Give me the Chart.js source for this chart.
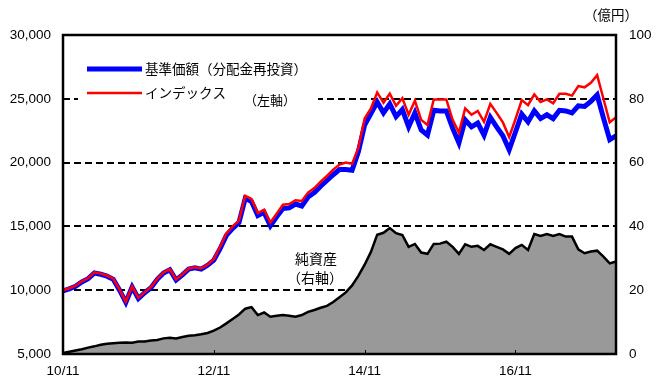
<!DOCTYPE html>
<html>
<head>
<meta charset="utf-8">
<script src="https://cdn.jsdelivr.net/npm/chart.js@4/dist/chart.umd.min.js"></script>
<style>
html,body{margin:0;padding:0;background:#fff;}
#wrap{position:relative;width:662px;height:384px;}
canvas{display:block;}
</style>
</head>
<body>
<div id="wrap"><canvas id="c" width="662" height="384"></canvas></div>
<script>
const months = [
'10/11','10/12',
'11/01','11/02','11/03','11/04','11/05','11/06','11/07','11/08','11/09','11/10','11/11','11/12',
'12/01','12/02','12/03','12/04','12/05','12/06','12/07','12/08','12/09','12/10','12/11','12/12',
'13/01','13/02','13/03','13/04','13/05','13/06','13/07','13/08','13/09','13/10','13/11','13/12',
'14/01','14/02','14/03','14/04','14/05','14/06','14/07','14/08','14/09','14/10','14/11','14/12',
'15/01','15/02','15/03','15/04','15/05','15/06','15/07','15/08','15/09','15/10','15/11','15/12',
'16/01','16/02','16/03','16/04','16/05','16/06','16/07','16/08','16/09','16/10','16/11','16/12',
'17/01','17/02','17/03','17/04','17/05','17/06','17/07','17/08','17/09','17/10','17/11','17/12',
'18/01','18/02','18/03'
];
const xTickLabels = ['10/11','12/11','14/11','16/11'];

// 基準価額（分配金再投資） — left axis
const fundNav = [
9950,10100,10300,10650,10900,11350,11250,11100,10850,10000,9050,10250,9350,9800,10200,10850,11350,11600,10800,11200,11650,11750,11650,11950,
12350,13250,14300,14850,15300,17200,16950,15850,16100,15050,15750,16400,16450,16750,16600,17300,17650,18150,18600,19050,19450,19450,19400,20850,
22950,23850,24750,23900,24600,23600,24150,22800,23900,22550,22150,24100,24050,24050,22700,21550,23350,22800,23100,22150,23550,22800,22100,21000,
22400,23800,23200,24050,23450,23750,23450,24100,24050,23900,24450,24400,24800,25300,23500,21800,22100
];
// インデックス — left axis
const indexVal = [
10000,10150,10350,10700,10950,11400,11300,11150,10900,10050,9100,10300,9400,9850,10250,10900,11400,11650,10850,11250,11700,11800,11700,12000,
12450,13400,14450,15000,15450,17400,17150,16050,16300,15300,16000,16700,16750,17050,17000,17650,18000,18500,18950,19450,19850,20000,19900,21150,
23450,24250,25500,24700,25400,24450,25050,23750,24850,23350,22950,24950,24950,24950,23350,22350,24250,23750,24050,23200,24600,23900,23150,22000,
23400,24900,24500,25350,24750,24950,24650,25400,25400,25250,26000,25900,26250,26850,25000,23150,23550
];
// 純資産（億円） — right axis
const netAssets = [
0.3,0.7,1.1,1.5,2.0,2.4,2.9,3.2,3.4,3.5,3.6,3.5,3.9,3.9,4.2,4.4,4.9,5.1,4.9,5.3,5.7,5.9,6.2,6.6,
7.3,8.3,9.6,11.0,12.4,14.2,14.7,12.2,13.0,11.7,12.0,12.2,12.0,11.7,12.2,13.2,13.8,14.5,15.1,16.3,17.8,19.3,21.5,24.5,
28.0,32.0,37.4,38.0,39.5,37.9,37.3,33.6,34.5,31.8,31.4,34.5,34.6,35.2,33.6,31.4,34.4,33.6,33.9,32.6,34.4,33.6,32.8,31.4,
33.2,34.2,32.6,37.6,37.0,37.6,37.0,37.6,36.8,36.8,32.8,31.6,32.1,32.4,30.5,28.4,29.0
];

const FONT_NUM = '"Liberation Sans", Arial, "Noto Sans CJK JP", sans-serif';
const FONT_JP = '"Noto Sans CJK JP", "Liberation Sans", sans-serif';

const decor = {
  id: 'decor',
  beforeDatasetsDraw(chart) {
    const ctx = chart.ctx;
    ctx.save();
    ctx.fillStyle = '#ffffff';
    ctx.fillRect(78, 50, 240, 60);
    ctx.lineCap = 'butt';
    ctx.strokeStyle = '#0000ff';
    ctx.lineWidth = 5;
    ctx.beginPath(); ctx.moveTo(87, 69); ctx.lineTo(142, 69); ctx.stroke();
    ctx.strokeStyle = '#ff0000';
    ctx.lineWidth = 2.5;
    ctx.beginPath(); ctx.moveTo(87, 93); ctx.lineTo(142, 93); ctx.stroke();
    ctx.fillStyle = '#000';
    ctx.textBaseline = 'middle';
    ctx.textAlign = 'left';
    ctx.font = '13.5px ' + FONT_JP;
    ctx.fillText('基準価額（分配金再投資）', 145, 69);
    ctx.fillText('インデックス', 145, 93);
    ctx.font = '13px ' + FONT_JP;
    ctx.fillText('（左軸）', 244, 100);
    ctx.restore();
  },
  afterDatasetsDraw(chart) {
    const ctx = chart.ctx;
    const a = chart.chartArea;
    ctx.save();
    ctx.strokeStyle = '#000';
    ctx.lineWidth = 2.5;
    ctx.setLineDash([]);
    ctx.strokeRect(a.left, a.top, a.right - a.left, a.bottom - a.top);
    const xs = chart.scales.x;
    ctx.lineWidth = 1;
    months.forEach((m, i) => {
      if (xTickLabels.includes(m) && i > 0) {
        const px = Math.round(xs.getPixelForValue(i)) + 0.5;
        ctx.beginPath(); ctx.moveTo(px, a.bottom); ctx.lineTo(px, a.bottom - 4); ctx.stroke();
      }
    });
    ctx.fillStyle = '#000';
    ctx.textBaseline = 'middle';
    ctx.textAlign = 'center';
    ctx.font = '14px ' + FONT_JP;
    ctx.fillText('純資産', 316, 259);
    ctx.fillText('（右軸）', 315, 278);
    ctx.font = '13.5px ' + FONT_JP;
    ctx.fillText('（億円）', 611, 15);
    ctx.restore();
  }
};

new Chart(document.getElementById('c'), {
  type: 'line',
  data: {
    labels: months,
    datasets: [
      { label: 'インデックス', data: indexVal, yAxisID: 'y', borderColor: '#ff0000', borderWidth: 2.5, pointRadius: 0, tension: 0, fill: false },
      { label: '基準価額（分配金再投資）', data: fundNav, yAxisID: 'y', borderColor: '#0000ff', borderWidth: 5, pointRadius: 0, tension: 0, fill: false },
      { label: '純資産', data: netAssets, yAxisID: 'y1', borderColor: '#000000', borderWidth: 2.5, backgroundColor: '#999999', pointRadius: 0, tension: 0, fill: 'origin' }
    ]
  },
  options: {
    responsive: false,
    animation: false,
    events: [],
    layout: { padding: { top: 35, left: 0, right: 0, bottom: 0 } },
    plugins: { legend: { display: false }, tooltip: { enabled: false } },
    scales: {
      x: {
        type: 'category',
        offset: false,
        grid: { display: false, drawTicks: false },
        border: { display: false },
        afterFit(s) { s.height = 30; },
        ticks: {
          autoSkip: false, maxRotation: 0, minRotation: 0, padding: 9,
          color: '#000', font: { family: FONT_NUM, size: 13.5 },
          callback(v, i) { const l = months[i]; return xTickLabels.includes(l) ? l : ''; }
        }
      },
      y: {
        position: 'left', min: 5000, max: 30000,
        afterFit(s) { s.width = 63; },
        border: { display: false, dash: [7, 4] },
        grid: {
          drawTicks: false, lineWidth: 2,
          color(ctx) { const v = ctx.tick && ctx.tick.value; return (v === 5000 || v === 30000) ? 'rgba(0,0,0,0)' : '#000'; }
        },
        ticks: {
          stepSize: 5000, padding: 12, color: '#000',
          font: { family: FONT_NUM, size: 13.5 },
          callback(v) { return v.toLocaleString('en-US'); }
        }
      },
      y1: {
        position: 'right', min: 0, max: 100,
        afterFit(s) { s.width = 46; },
        border: { display: false },
        grid: { drawOnChartArea: false, drawTicks: false },
        ticks: { stepSize: 20, padding: 13, color: '#000', font: { family: FONT_NUM, size: 13.5 } }
      }
    }
  },
  plugins: [decor]
});
</script>
</body>
</html>
